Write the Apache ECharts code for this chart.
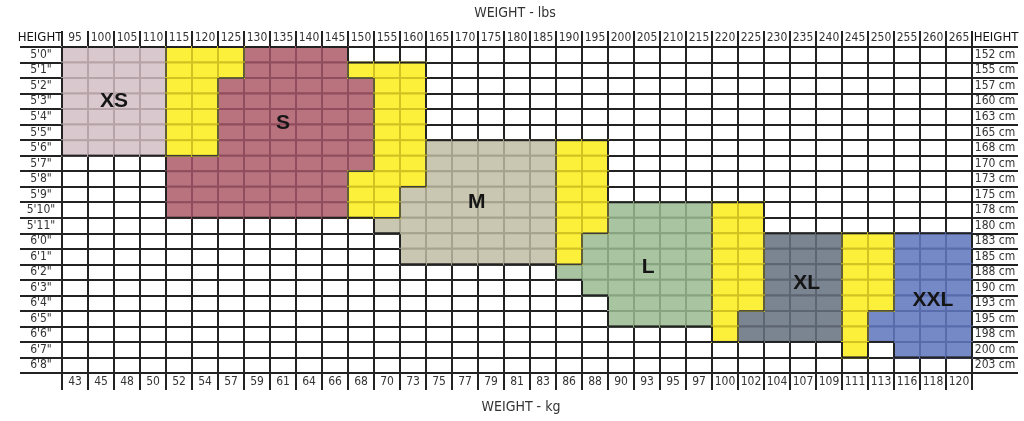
<!DOCTYPE html>
<html>
<head>
<meta charset="utf-8">
<script src="https://cdn.jsdelivr.net/npm/echarts@6/dist/echarts.min.js"></script>
<style>
html,body{margin:0;padding:0;background:#fff;}
#chart{width:1024px;height:421px;}
</style>
</head>
<body>
<div id="chart"></div>
<script>
// ---- data ----
const lbs = ['95','100','105','110','115','120','125','130','135','140','145','150','155','160','165','170','175','180','185','190','195','200','205','210','215','220','225','230','235','240','245','250','255','260','265'];
const kg = ['43','45','48','50','52','54','57','59','61','64','66','68','70','73','75','77','79','81','83','86','88','90','93','95','97','100','102','104','107','109','111','113','116','118','120'];
const heights = ['5\'0"','5\'1"','5\'2"','5\'3"','5\'4"','5\'5"','5\'6"','5\'7"','5\'8"','5\'9"','5\'10"','5\'11"','6\'0"','6\'1"','6\'2"','6\'3"','6\'4"','6\'5"','6\'6"','6\'7"','6\'8"'];
const cm = ['152 cm','155 cm','157 cm','160 cm','163 cm','165 cm','168 cm','170 cm','173 cm','175 cm','178 cm','180 cm','183 cm','185 cm','188 cm','190 cm','193 cm','195 cm','198 cm','200 cm','203 cm'];

// size regions: [lbsFrom, lbsTo, heightInchFrom, heightInchTo]
const sizeNames = ['XS','S','M','L','XL','XXL'];
const XS  = [[95,110,60,66]];
const S   = [[130,145,60,61],[125,150,62,66],[115,145,67,70],[150,150,67,67]];
const M   = [[165,185,66,73],[160,160,69,73],[155,155,71,71]];
const L   = [[200,215,70,77],[195,195,72,75],[190,190,74,74]];
const XL  = [[230,240,72,78],[225,225,77,78]];
const XXL = [[255,265,72,79],[250,250,77,78]];
// in-between (yellow) zones
const BETWEEN = [[115,125,60,61],[115,120,62,66],[150,160,61,61],[155,160,62,67],[150,160,68,68],[150,155,69,70],
                 [190,195,66,71],[190,190,72,73],[220,225,70,76],[220,220,77,78],[245,245,72,79],[250,250,72,76]];
// label anchors [lbs, heightInch]
const labelSpots = [[102.5,63],[135,64.4],[172.25,69.5],[205.2,73.7],[235.7,74.7],[260,75.8]];

// ---- styles ----
const fills  = ['#d9c8cd','#b8737f','#c9c6b1','#a9c4a1','#7b8591','#7589c7','#fdf03a'];
const lines  = ['#b7a4a9','#8f4d5d','#a5a38d','#87a37f','#5c6570','#586bab','#d2c222'];
const groups = [XS,S,M,L,XL,XXL,BETWEEN];

const lbs0 = 95, in0 = 60;
const cells = [];
const lookup = {};
groups.forEach((g,k)=>{
  g.forEach(r=>{
    for(let w=r[0]; w<=r[1]; w+=5){
      for(let h=r[2]; h<=r[3]; h++){
        const xi=(w-lbs0)/5, yi=h-in0;
        cells.push([xi,yi,k]);
        lookup[xi+','+yi]=k;
      }
    }
  });
});
const labelData = labelSpots.map((p,i)=>[(p[0]-lbs0)/5, p[1]-in0, i]);

const narrow = '"Liberation Sans Narrow","DejaVu Sans Condensed",sans-serif';
const chart = echarts.init(document.getElementById('chart'), null, {renderer:'canvas'});

const tickStyle = {color:'#222', width:2};
chart.setOption({
  animation:false,
  backgroundColor:'#fff',
  grid:{left:62, right:52, top:47, bottom:48, containLabel:false},
  xAxis:[
    {type:'category', data:lbs, position:'top', boundaryGap:true,
     axisLine:{show:true, lineStyle:tickStyle},
     axisTick:{show:true, interval:0, length:16, lineStyle:tickStyle},
     axisLabel:{interval:0, margin:3, fontFamily:narrow, fontSize:12, color:'#333'},
     splitLine:{show:true, interval:0, lineStyle:tickStyle}},
    {type:'category', data:kg, position:'bottom', boundaryGap:true,
     axisLine:{show:true, lineStyle:tickStyle},
     axisTick:{show:true, interval:0, length:17, lineStyle:tickStyle},
     axisLabel:{interval:0, margin:3, fontFamily:narrow, fontSize:12, color:'#333'},
     splitLine:{show:false}}
  ],
  yAxis:[
    {type:'category', data:heights, position:'left', inverse:true, boundaryGap:true,
     axisLine:{show:true, lineStyle:tickStyle},
     axisTick:{show:true, interval:0, length:42, lineStyle:tickStyle},
     axisLabel:{interval:0, margin:21, align:'center', fontFamily:narrow, fontSize:12, color:'#333'},
     splitLine:{show:true, interval:0, lineStyle:tickStyle}},
    {type:'category', data:cm, position:'right', inverse:true, boundaryGap:true,
     axisLine:{show:true, lineStyle:tickStyle},
     axisTick:{show:true, interval:0, length:46, lineStyle:tickStyle},
     axisLabel:{interval:0, margin:23, align:'center', fontFamily:narrow, fontSize:12, color:'#333'},
     splitLine:{show:false}}
  ],
  graphic:[
    {type:'text', x:515, y:13, style:{text:'WEIGHT - lbs', font:'14px '+narrow, fill:'#333', align:'center', verticalAlign:'middle'}},
    {type:'text', x:521, y:407, style:{text:'WEIGHT - kg', font:'14px '+narrow, fill:'#333', align:'center', verticalAlign:'middle'}},
    {type:'text', x:40, y:38, style:{text:'HEIGHT', font:'13px '+narrow, fill:'#111', align:'center', verticalAlign:'middle'}},
    {type:'text', x:996, y:38, style:{text:'HEIGHT', font:'13px '+narrow, fill:'#111', align:'center', verticalAlign:'middle'}}
  ],
  series:[
    {type:'custom', xAxisIndex:0, yAxisIndex:0, data:cells, z:2,
     renderItem:function(params, api){
       const xi=api.value(0), yi=api.value(1), k=api.value(2);
       const c=api.coord([xi,yi]); const s=api.size([1,1]);
       const x0=c[0]-s[0]/2, y0=c[1]-s[1]/2, x1=x0+s[0], y1=y0+s[1];
       const children=[{type:'rect', shape:{x:x0,y:y0,width:s[0],height:s[1]},
         style:{fill:fills[k], stroke:lines[k], lineWidth:2}}];
       const edges=[[xi-1,yi,[x0,y0,x0,y1]],[xi+1,yi,[x1,y0,x1,y1]],[xi,yi-1,[x0,y0,x1,y0]],[xi,yi+1,[x0,y1,x1,y1]]];
       edges.forEach(e=>{
         const nk=lookup[e[0]+','+e[1]];
         if(nk!==k){
           children.push({type:'line', shape:{x1:e[2][0],y1:e[2][1],x2:e[2][2],y2:e[2][3]},
             style:{stroke: nk===undefined ? '#222' : '#3c3c3c', lineWidth: nk===undefined ? 2 : 1.5}});
         }
       });
       return {type:'group', children:children};
     }},
    {type:'custom', xAxisIndex:0, yAxisIndex:0, data:labelData, z:5,
     renderItem:function(params, api){
       const xi=api.value(0), yi=api.value(1), i=api.value(2);
       const fx=Math.floor(xi), fy=Math.floor(yi);
       const c=api.coord([fx,fy]); const s=api.size([1,1]);
       const x=c[0]+(xi-fx)*s[0], y=c[1]+(yi-fy)*s[1];
       return {type:'text', x:x, y:y, style:{text:sizeNames[i], font:'bold 21px "Liberation Sans",Arial,sans-serif',
         fill:'#151515', align:'center', verticalAlign:'middle'}};
     }}
  ]
});
</script>
</body>
</html>
